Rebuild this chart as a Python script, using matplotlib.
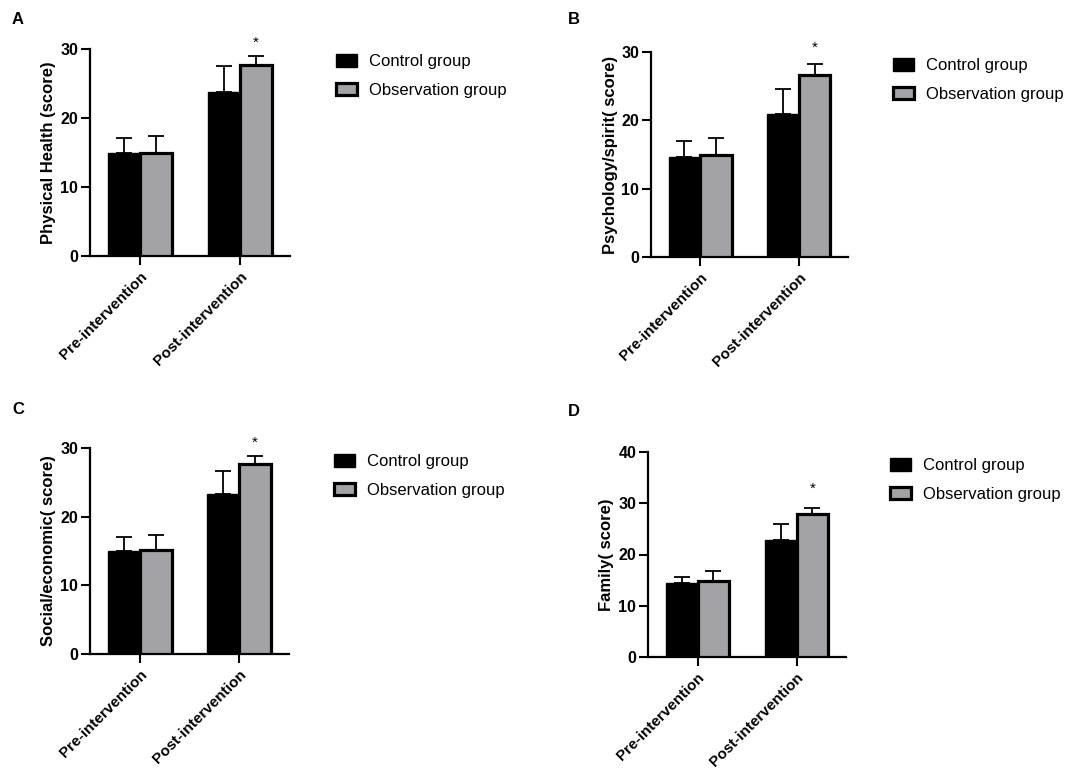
import matplotlib
matplotlib.use("Agg")
import matplotlib.pyplot as plt
import numpy as np

plt.rcParams["font.family"] = ["Liberation Sans", "DejaVu Sans"]

# 数据
groups = ["Pre-intervention", "Post-intervention"]
series_names = ["Control group", "Observation group"]
panel_letters = ["A", "B", "C", "D"]
ylabels = [
    "Physical Health (score)",
    "Psychology/spirit( score)",
    "Social/economic( score)",
    "Family( score)",
]
y_max = [30, 30, 30, 40]

control_mean = [[14.9, 23.7], [14.7, 21.0], [15.0, 23.3], [14.4, 22.9]]
control_sd = [[2.2, 3.8], [2.3, 3.6], [2.0, 3.4], [1.2, 3.1]]
observation_mean = [[15.0, 27.7], [14.9, 26.7], [15.2, 27.7], [14.8, 27.9]]
observation_sd = [[2.4, 1.3], [2.5, 1.6], [2.2, 1.1], [2.0, 1.2]]
star_y = [30.9, 30.6, 30.7, 32.8]

# 每个子图的位置 (像素 -> 比例)
W, H = 1084, 770
axes_px = [
    (90, 49, 290, 256),
    (651, 52, 848, 257),
    (90, 448, 289, 654),
    (648, 452, 846, 657),
]
legend_px = [(336, 54), (893, 58), (334, 454), (890, 458)]
letter_px = [(18, 20), (574, 20), (18, 409), (574, 411)]

gray = "#a3a3a7"
width = 0.32

fig = plt.figure(figsize=(W / 100, H / 100), dpi=100)

for i in range(4):
    x0, y0, x1, y1 = axes_px[i]
    ax = fig.add_axes([x0 / W, 1 - y1 / H, (x1 - x0) / W, (y1 - y0) / H])
    x = np.arange(len(groups))

    ax.bar(x - width / 2, control_mean[i], width, color="black",
           edgecolor="black", linewidth=1, label=series_names[0], zorder=2)
    ax.bar(x + width / 2, observation_mean[i], width, color=gray,
           edgecolor="black", linewidth=2.3, label=series_names[1], zorder=3)

    ax.errorbar(x - width / 2, control_mean[i],
                yerr=[np.zeros(2), control_sd[i]], fmt="none",
                ecolor="black", elinewidth=1.3, capsize=6, capthick=1.3, zorder=1)
    ax.errorbar(x + width / 2, observation_mean[i],
                yerr=[np.zeros(2), observation_sd[i]], fmt="none",
                ecolor="black", elinewidth=1.3, capsize=6, capthick=1.3, zorder=1)

    ax.text(1 + width / 2, star_y[i], "*", ha="center", va="center", fontsize=11)

    ax.set_xlim(-0.5, 1.5)
    ax.set_ylim(0, y_max[i])
    ax.set_yticks(np.arange(0, y_max[i] + 1, 10))
    ax.set_xticks(x)
    ax.set_xticklabels(groups, rotation=45, ha="right", rotation_mode="anchor",
                       fontsize=11, fontweight="bold")
    for lab in ax.get_yticklabels():
        lab.set_fontsize(11.5)
        lab.set_fontweight("bold")
    ax.tick_params(axis="both", width=1.5, length=6.5, color="black")
    ax.tick_params(axis="x", pad=3)
    ax.tick_params(axis="y", pad=2)

    for side in ["top", "right"]:
        ax.spines[side].set_visible(False)
    for side in ["left", "bottom"]:
        ax.spines[side].set_linewidth(1.6)

    ax.set_ylabel(ylabels[i], fontsize=12, fontweight="bold")
    ax.yaxis.set_label_coords(-0.17, 0.5)

    lx, ly = legend_px[i]
    ax.legend(loc="upper left",
              bbox_to_anchor=((lx - x0) / (x1 - x0), (y1 - ly) / (y1 - y0)),
              frameon=False, fontsize=12, borderpad=0, borderaxespad=0,
              handlelength=1.28, handleheight=0.8, handletextpad=0.7,
              labelspacing=0.8)

    lx, ly = letter_px[i]
    fig.text(lx / W, 1 - ly / H, panel_letters[i], ha="center", va="center",
             fontsize=12, fontweight="bold")

fig.savefig("out.png", dpi=100)
